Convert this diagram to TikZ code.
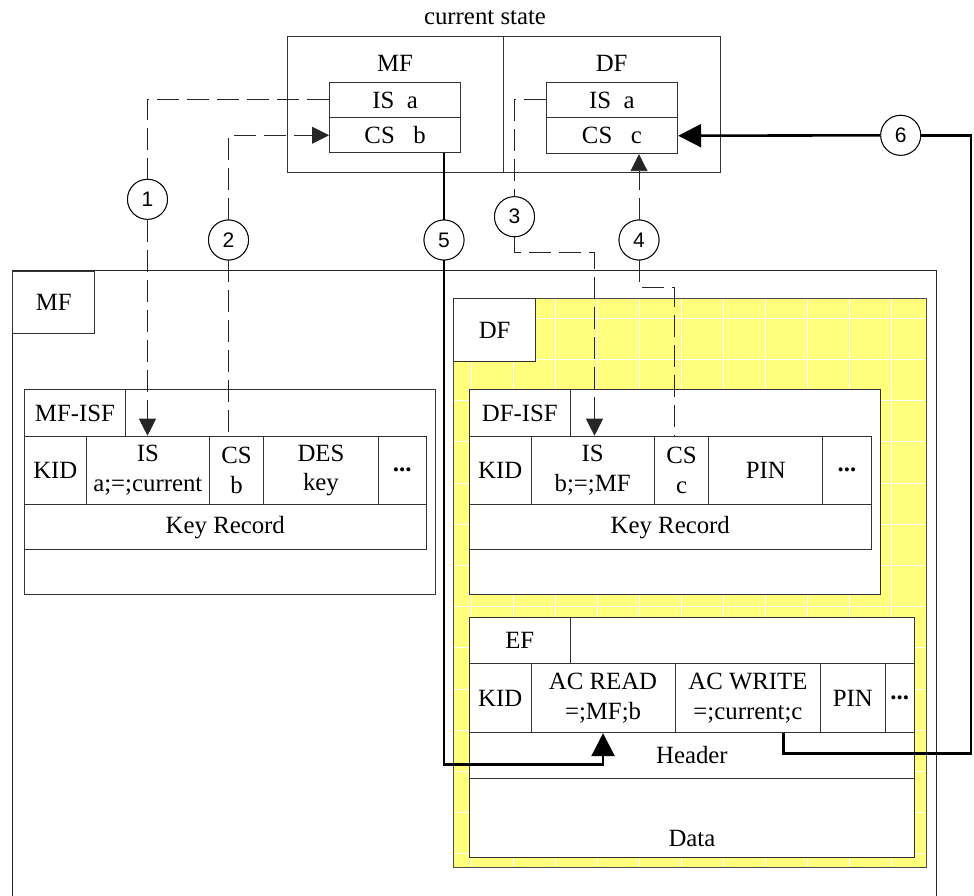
\documentclass[tikz,border=0pt]{standalone}
\usepackage{fontspec}
\setmainfont{Liberation Serif}
\newfontfamily\numfont{Liberation Sans}
\usetikzlibrary{arrows.meta,calc}
\definecolor{dfyellow}{RGB}{255,255,125}

% cell: name, x, y (top left), width, height, text
\newcommand{\cellat}[6]{%
  \node[cell, minimum width=#4pt, minimum height=#5pt] (#1) at (#2,#3) {#6};}

\begin{document}
\begin{tikzpicture}[x=1pt, y=-1pt,
  every node/.append style={font=\fontsize{24.8}{29.5}\selectfont},
  cell/.style={draw=black!80, line width=0.9pt, fill=white, inner sep=0pt,
    align=center, anchor=north west},
  frame/.style={draw=black!85, line width=0.9pt},
  num/.style={circle, draw=black, line width=0.9pt, fill=white, minimum size=40pt,
    inner sep=0pt, font=\numfont\fontsize{21}{24}\selectfont},
  dashline/.style={black!85, line width=0.9pt, dash pattern=on 22pt off 8pt},
  dasharrow/.style={dashline, -{Triangle[length=17pt,width=17pt]}},
  boldline/.style={black, line width=2.6pt},
  boldarrow/.style={boldline, -{Triangle[length=23pt,width=23pt]}},
  gridline/.style={white, line width=1.1pt},
]
\useasboundingbox (0,0) rectangle (974,896);

% ---------- current state ----------
\node (title) at (485,18) {current state};
\cellat{csmf}{286.7}{36}{216.5}{136.5}{}
\cellat{csdf}{503.2}{36}{216.8}{136.5}{}
\node (csmflab) at (395,63) {MF};
\node (csdflab) at (611.6,63) {DF};
\cellat{cfIS}{329}{81.7}{131.4}{35.6}{IS\ \ a}
\cellat{cfCS}{329}{117.3}{131.4}{35}{CS\ \ \ b}
\cellat{cdIS}{545.7}{81.7}{131.6}{35.6}{IS\ \ a}
\cellat{cdCS}{545.7}{117.3}{131.6}{36}{CS\ \ \ c}

% ---------- MF ----------
\draw[frame] (12.3,896) |- (936.6,270.7) -- (936.6,896);
\cellat{mflab}{12.3}{270.7}{82}{62.6}{MF}

\cellat{mfisf}{24}{389.3}{411}{204.7}{}
\cellat{mfisflab}{24}{389.3}{101}{46.4}{MF-ISF}
\cellat{mfKID}{24}{435.7}{61.7}{68.3}{KID}
\cellat{mfIS}{85.7}{435.7}{123.3}{68.3}{IS\\a;=;current}
\cellat{mfCS}{209}{435.7}{54.3}{68.3}{CS\\b}
\cellat{mfDES}{263.3}{435.7}{114.4}{68.3}{DES\\key}
\cellat{mfmore}{377.7}{435.7}{48}{68.3}{\textbf{...}}
\cellat{mfkey}{24}{504}{401.7}{45.3}{Key Record}

% ---------- DF ----------
\cellat{dfbox}{453.2}{298.3}{472.3}{568.4}{}
\fill[dfyellow] (dfbox.north west) rectangle (dfbox.south east);
\foreach \gx in {471.6,513.6,...,925} \draw[gridline] (\gx,299) -- (\gx,866);
\foreach \gy in {318.3,359.5,...,866} \draw[gridline] (454,\gy) -- (925,\gy);
\draw[frame, draw=black!70] (dfbox.north west) rectangle (dfbox.south east);
\cellat{dflab}{453.2}{298.3}{81.9}{62.4}{DF}

\cellat{dfisf}{468.9}{389.3}{410.8}{204.7}{}
\cellat{dfisflab}{468.9}{389.3}{100.9}{46.4}{DF-ISF}
\cellat{dfKID}{468.9}{435.7}{61.7}{68.3}{KID}
\cellat{dfIS}{530.6}{435.7}{123.2}{68.3}{IS\\b;=;MF}
\cellat{dfCS}{653.8}{435.7}{54.5}{68.3}{CS\\c}
\cellat{dfPIN}{708.3}{435.7}{114.1}{68.3}{PIN}
\cellat{dfmore}{822.4}{435.7}{48.3}{68.3}{\textbf{...}}
\cellat{dfkey}{468.9}{504}{401.8}{45.3}{Key Record}

% ---------- EF ----------
\cellat{ef}{468.9}{616.7}{445.1}{240}{}
\cellat{eflab}{468.9}{616.7}{100.9}{46.6}{EF}
\cellat{efKID}{468.9}{663.3}{61.7}{69}{KID}
\cellat{efREAD}{530.6}{663.3}{144}{69}{AC READ\\=;MF;b}
\cellat{efWRITE}{674.6}{663.3}{145.8}{69}{AC WRITE\\=;current;c}
\cellat{efPIN}{820.4}{663.3}{64.1}{69}{PIN}
\cellat{efmore}{884.5}{663.3}{29.5}{69}{\textbf{...}}
\cellat{efhead}{468.9}{732.3}{445.1}{45.4}{Header}
\cellat{efdata}{468.9}{777.7}{445.1}{79}{}
\node (datalab) at ($(efdata.south)+(0,-19.5)$) {Data};

% ---------- circles ----------
\coordinate (n1) at (147.5,199.3);
\coordinate (n2) at (228.5,240);
\coordinate (n3) at (514.5,216.7);
\coordinate (n4) at (639,240);
\coordinate (n5) at (444,240);
\coordinate (n6) at (900.7,135.3);
\foreach \i in {1,...,6} \node[num] (c\i) at (n\i) {\i};

% ---------- connectors ----------
\draw[dashline] (cfIS.west) -| (c1.north);
\draw[dasharrow] (c1.south) -- (c1 |- mfIS.north);
\draw[dasharrow] (c2.north) |- (cfCS.west);
\draw[dashline] (c2.south) -- (c2 |- mfCS.north);

\coordinate (k3) at (594.5,252.3);
\draw[dashline] (cdIS.west) -| (c3.north);
\draw[dasharrow] (c3.south) |- (k3) -- (k3 |- dfIS.north);

\coordinate (k4) at (674.6,287.3);
\draw[dasharrow] (c4.north) -- (c4 |- cdCS.south);
\draw[dashline] (c4.south) |- (k4) -- (k4 |- dfCS.north);

\coordinate (k5) at (444,764.3);
\draw[boldline] (c5 |- cfCS.south) -- (c5.north);
\draw[boldarrow] (c5.south) -- (k5) -| (efREAD.south);

\coordinate (k6) at (971,753.3);
\draw[boldline] ([xshift=35.7pt]efWRITE.south) |- (k6) |- (c6.east);
\draw[boldarrow] (c6.west) -- (cdCS.east);

% circles on top of the lines
\foreach \i in {1,...,6} \node[num] at (c\i) {\i};

\end{tikzpicture}
\end{document}
